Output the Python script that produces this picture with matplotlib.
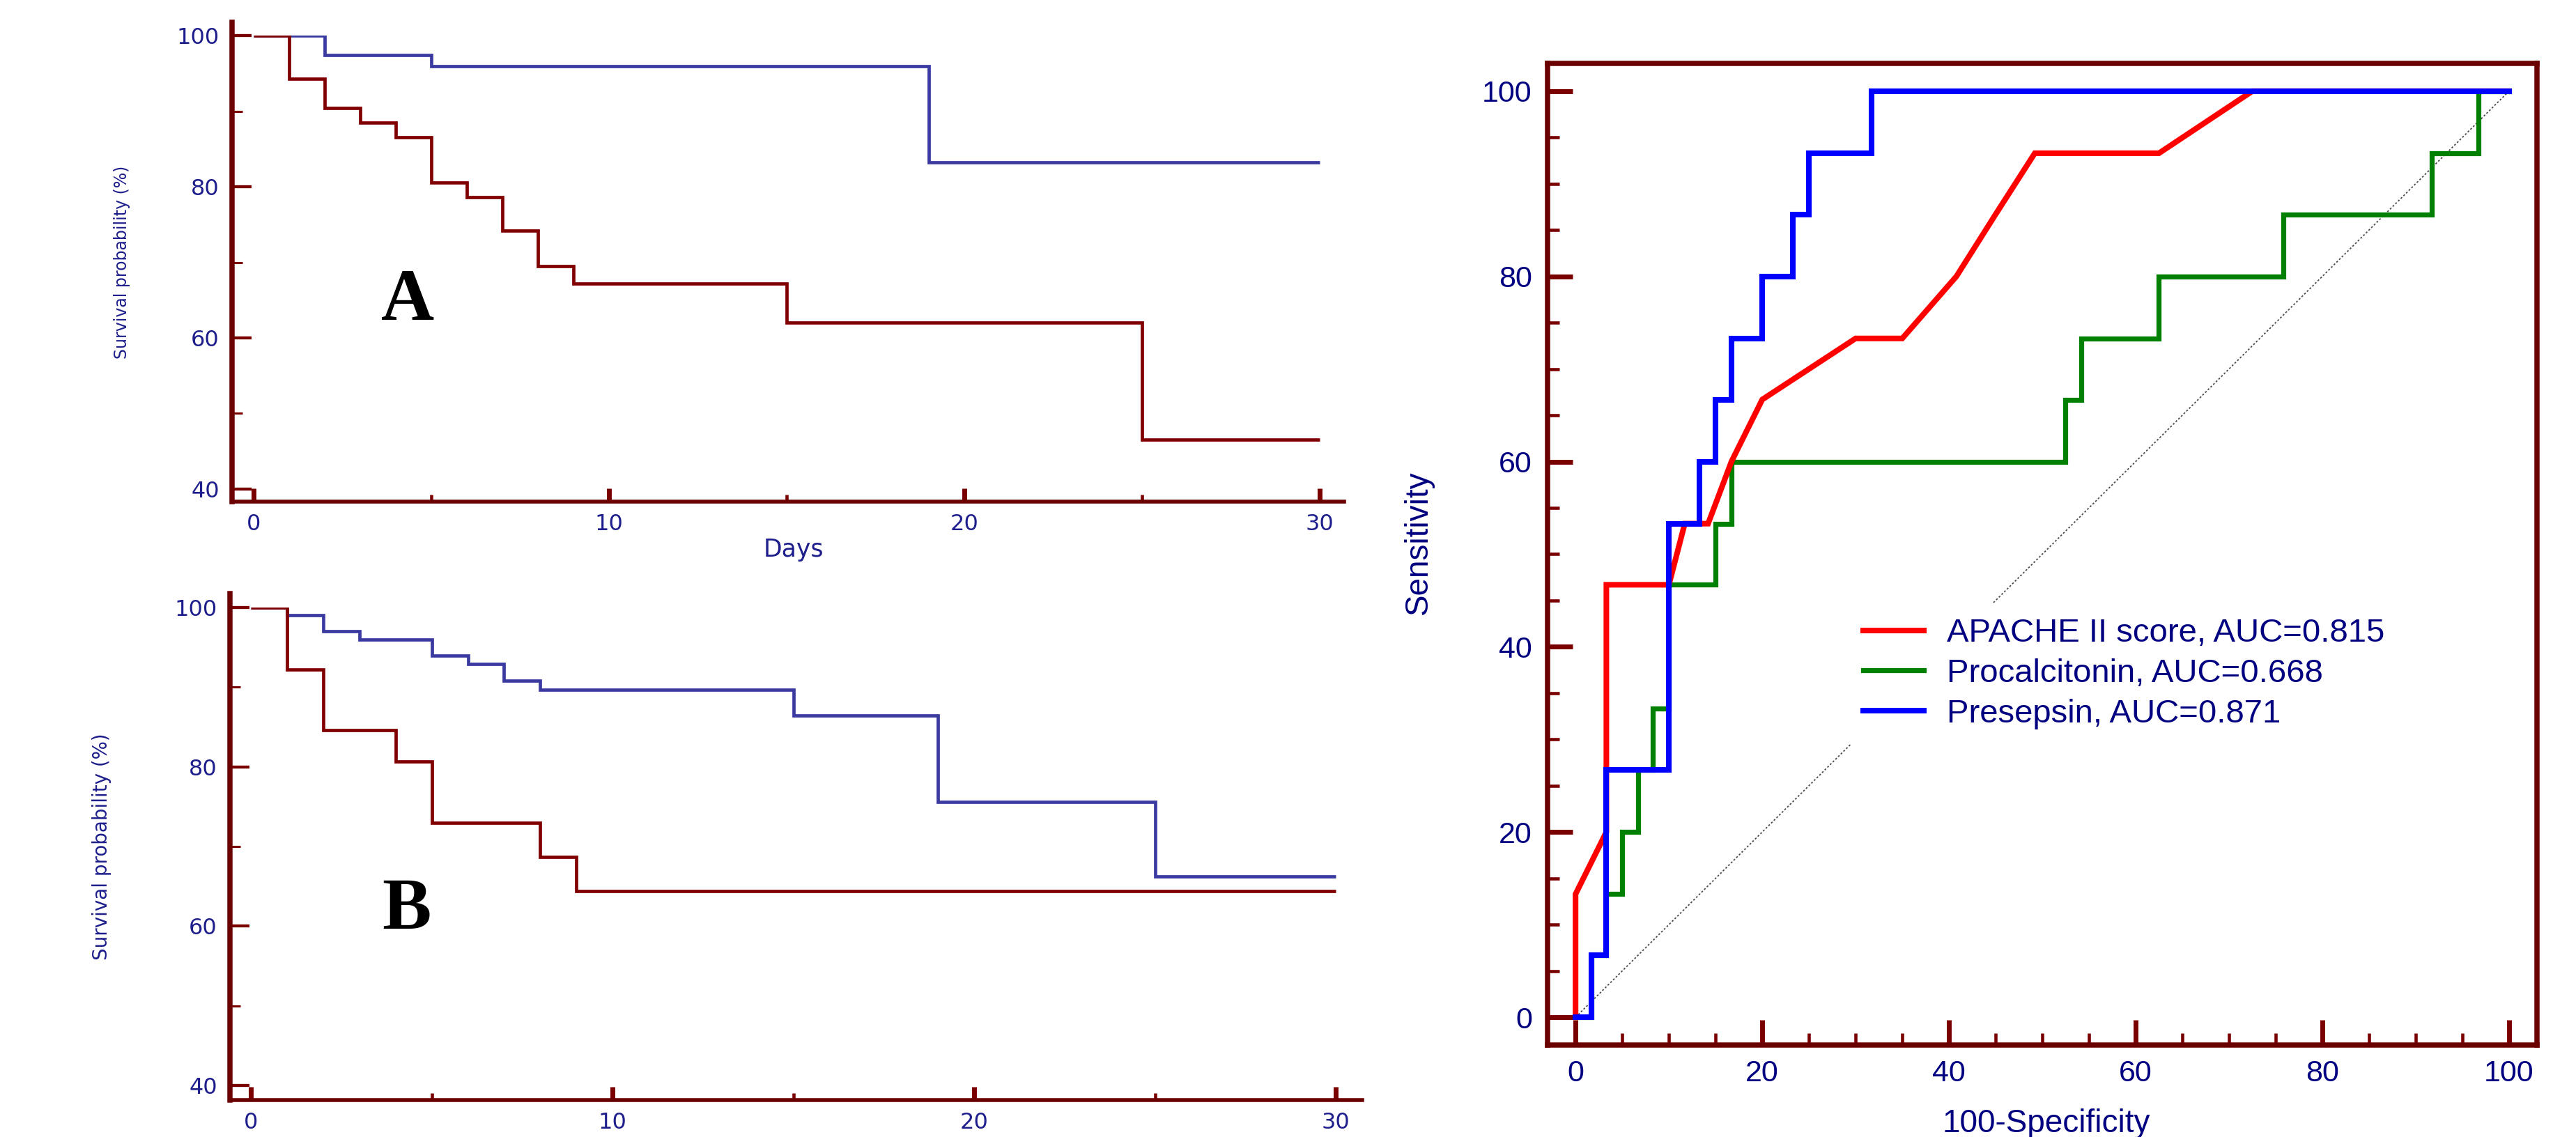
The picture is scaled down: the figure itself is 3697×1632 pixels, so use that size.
import matplotlib
matplotlib.use('Agg')
import matplotlib.pyplot as plt
from matplotlib.patches import Rectangle
from matplotlib.ticker import FixedLocator

# ---------------- data ----------------
# Panel A (Kaplan-Meier)
a_red_days = [0, 1, 2, 3, 4, 5, 6, 7, 8, 9, 15, 25, 30]
a_red_surv = [100, 94.3, 90.4, 88.5, 86.6, 80.6, 78.6, 74.2, 69.5, 67.2, 62.0, 46.5, 46.5]
a_blue_days = [0, 2, 5, 19, 30]
a_blue_surv = [100, 97.4, 96.0, 83.2, 83.2]

# Panel B (Kaplan-Meier)
b_red_days = [0, 1, 2, 4, 5, 8, 9, 30]
b_red_surv = [100, 92.2, 84.6, 80.7, 73.0, 68.7, 64.4, 64.4]
b_blue_days = [0, 1, 2, 3, 5, 6, 7, 8, 15, 19, 25, 30]
b_blue_surv = [100, 99.0, 97.0, 96.0, 94.0, 92.9, 90.8, 89.7, 86.4, 75.6, 66.2, 66.2]

km_xticks_major = [0, 10, 20, 30]
km_xticks_minor = [5, 15, 25]
km_yticks_major = [40, 60, 80, 100]
km_yticks_minor = [50, 70, 90]

# ROC curves (100-Specificity, Sensitivity)
apache_fpr = [0, 0, 3.3, 3.3, 10, 11.7, 14.2, 16.7, 20, 30, 35, 40.8, 45, 49.2, 62.5, 72.5, 100]
apache_tpr = [0, 13.3, 20, 46.7, 46.7, 53.3, 53.3, 60, 66.7, 73.3, 73.3, 80, 86.7, 93.3, 93.3, 100, 100]
pct_fpr = [0, 1.7, 3.3, 5, 6.7, 8.3, 10, 15, 16.7, 52.5, 54.2, 62.5, 75.8, 91.7, 96.7, 100]
pct_tpr = [0, 6.7, 13.3, 20, 26.7, 33.3, 46.7, 53.3, 60, 66.7, 73.3, 80, 86.7, 93.3, 100, 100]
pres_fpr = [0, 1.7, 3.3, 10, 13.3, 15, 16.7, 20, 23.3, 25, 31.7, 100]
pres_tpr = [0, 6.7, 26.7, 53.3, 60, 66.7, 73.3, 80, 86.7, 93.3, 100, 100]
diag = [0, 100]

roc_labels = ['APACHE II score, AUC=0.815', 'Procalcitonin, AUC=0.668', 'Presepsin, AUC=0.871']
roc_ticks_major = [0, 20, 40, 60, 80, 100]
roc_ticks_minor = [5, 10, 15, 25, 30, 35, 45, 50, 55, 65, 70, 75, 85, 90, 95]

# ---------------- style ----------------
W, H, DPI = 3698, 1632, 100
SPINE = '#6A0000'
TICK = '#7A0000'
NAVY_KM = '#1E1E8C'
NAVY = '#000080'
KM_RED = '#800000'
KM_BLUE = '#3A3AA0'

fig = plt.figure(figsize=(W / DPI, H / DPI), dpi=DPI)


def px_axes(left, top, right, bottom):
    return fig.add_axes([left / W, 1 - bottom / H, (right - left) / W, (bottom - top) / H])


def style_km(ax, xlim, ylim):
    ax.set_xlim(*xlim)
    ax.set_ylim(*ylim)
    ax.spines['top'].set_visible(False)
    ax.spines['right'].set_visible(False)
    ax.spines['left'].set_linewidth(5.4)
    ax.spines['bottom'].set_linewidth(4.0)
    for s in ('left', 'bottom'):
        ax.spines[s].set_color(SPINE)
    ax.xaxis.set_major_locator(FixedLocator(km_xticks_major))
    ax.xaxis.set_minor_locator(FixedLocator(km_xticks_minor))
    ax.yaxis.set_major_locator(FixedLocator(km_yticks_major))
    ax.yaxis.set_minor_locator(FixedLocator(km_yticks_minor))
    ax.tick_params(axis='x', which='major', direction='in', length=14, width=5,
                   color=TICK, pad=12, labelsize=23, labelcolor=NAVY_KM)
    ax.tick_params(axis='x', which='minor', direction='in', length=7, width=3.3, color=TICK)
    ax.tick_params(axis='y', which='major', direction='in', length=20, width=3.1,
                   color=TICK, pad=13, labelsize=23, labelcolor=NAVY_KM)
    ax.tick_params(axis='y', which='minor', direction='in', length=11, width=2.2, color=TICK)
    for lbl in ax.get_xticklabels() + ax.get_yticklabels():
        lbl.set_fontfamily('DejaVu Sans')


def km_step(ax, days, surv, color, z):
    line, = ax.step(days, surv, where='post', color=color, lw=3.4, zorder=z,
                    solid_joinstyle='miter', solid_capstyle='butt')
    clip = Rectangle((-5, 0), 50, 100, transform=ax.transData)
    line.set_clip_path(clip)
    return line


# ---------------- Panel A ----------------
axA = px_axes(333, 32, 1929, 720)
style_km(axA, (-0.61, 30.68), (38.32, 101.78))
km_step(axA, a_blue_days, a_blue_surv, KM_BLUE, 2)
km_step(axA, a_red_days, a_red_surv, KM_RED, 3)
axA.set_ylabel('Survival probability (%)', fontsize=17, color=NAVY_KM,
               family='DejaVu Sans', va='center')
axA.yaxis.set_label_coords(-0.099, 0.5)
axA.set_xlabel('Days', fontsize=25, color=NAVY_KM, family='DejaVu Sans', va='center')
axA.xaxis.set_label_coords(0.505, -0.10)
axA.text(4.33, 62.4, 'A', family='Liberation Serif', fontweight='bold', fontsize=76,
         ha='center', va='baseline', color='black')

# ---------------- Panel B ----------------
axB = px_axes(330, 852, 1955, 1579)
style_km(axB, (-0.58, 30.73), (38.16, 101.75))
km_step(axB, b_blue_days, b_blue_surv, KM_BLUE, 2)
km_step(axB, b_red_days, b_red_surv, KM_RED, 3)
axB.set_ylabel('Survival probability (%)', fontsize=20, color=NAVY_KM,
               family='DejaVu Sans', va='center')
axB.yaxis.set_label_coords(-0.113, 0.5)
axB.text(4.3, 59.7, 'B', family='Liberation Serif', fontweight='bold', fontsize=76,
         ha='center', va='baseline', color='black')

# ---------------- ROC panel ----------------
axR = px_axes(2221, 91, 3641, 1500)
axR.set_xlim(-3, 103)
axR.set_ylim(-3, 103)
for s in axR.spines.values():
    s.set_color(SPINE)
    s.set_linewidth(5.4)
axR.xaxis.set_major_locator(FixedLocator(roc_ticks_major))
axR.xaxis.set_minor_locator(FixedLocator(roc_ticks_minor))
axR.yaxis.set_major_locator(FixedLocator(roc_ticks_major))
axR.yaxis.set_minor_locator(FixedLocator(roc_ticks_minor))
axR.tick_params(which='major', direction='in', length=26, width=5, color=TICK,
                labelsize=31, labelcolor=NAVY)
axR.tick_params(axis='y', which='major', pad=16)
axR.tick_params(axis='x', which='major', pad=15)
axR.tick_params(which='minor', direction='in', length=12, width=3.3, color=TICK)
for lbl in axR.get_xticklabels() + axR.get_yticklabels():
    lbl.set_fontfamily('Liberation Sans')

axR.plot(diag, diag, color='#4A4A4A', lw=1.3, ls=(0, (1.5, 1.5)), zorder=1)
h_pct, = axR.plot(pct_fpr, pct_tpr, drawstyle='steps-post', color='#008000', lw=5.2,
                  zorder=2, solid_joinstyle='miter')
h_ap, = axR.plot(apache_fpr, apache_tpr, color='#FF0000', lw=5.8, zorder=3,
                 solid_joinstyle='miter')
h_pre, = axR.plot(pres_fpr, pres_tpr, drawstyle='steps-post', color='#0000FF', lw=5.8,
                  zorder=4, solid_joinstyle='miter')

leg = axR.legend(handles=[h_ap, h_pct, h_pre], labels=roc_labels, loc='center left',
                 bbox_to_anchor=(29.2, 37.1), bbox_transform=axR.transData,
                 frameon=True, facecolor='white', edgecolor='none', framealpha=1,
                 fancybox=False, borderpad=0.45, borderaxespad=0, handlelength=1.85,
                 handletextpad=0.7, labelspacing=0.29,
                 prop={'family': 'Liberation Sans', 'size': 34})
for t in leg.get_texts():
    t.set_color(NAVY)

axR.set_ylabel('Sensitivity', fontsize=33, color=NAVY, family='Liberation Sans', va='center')
axR.yaxis.set_label_coords(-0.13, 0.512)
axR.set_xlabel('100-Specificity', fontsize=33, color=NAVY, family='Liberation Sans', va='center')
axR.xaxis.set_label_coords(0.504, -0.08)

fig.savefig('out.png', dpi=DPI)
